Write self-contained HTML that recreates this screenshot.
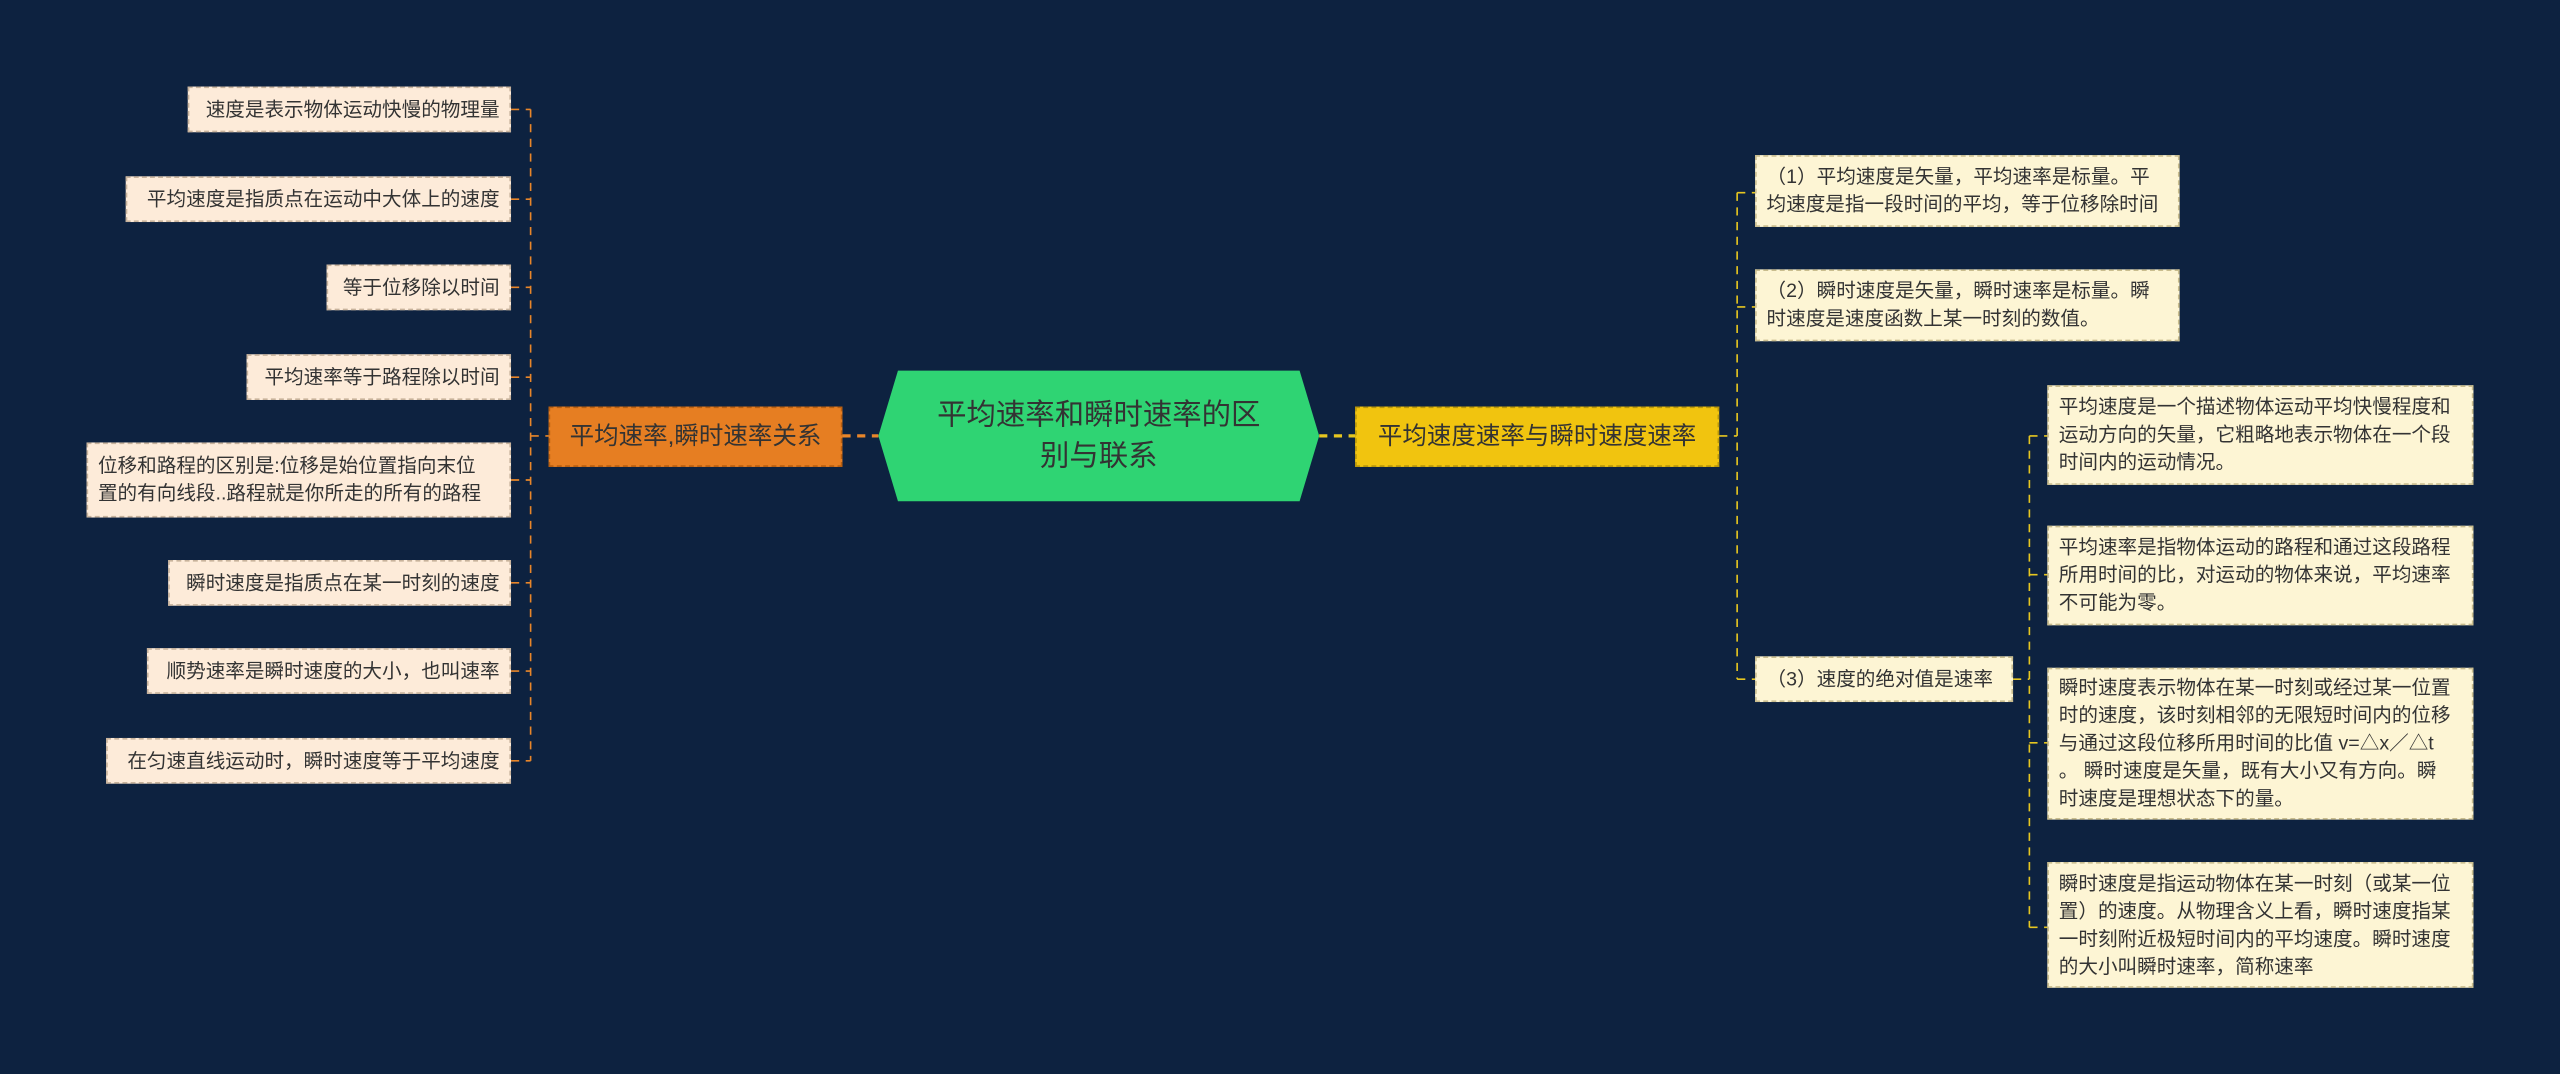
<!DOCTYPE html>
<html><head><meta charset="utf-8">
<style>
html,body{margin:0;padding:0;background:#0d2240;width:2560px;height:1074px;overflow:hidden}
#c{position:absolute;left:0;top:0;width:1568px;height:658px;transform:scale(1.63265);transform-origin:0 0;font-family:"Liberation Sans","Noto Sans CJK SC",sans-serif;}
.b{position:absolute;box-sizing:border-box;display:flex;align-items:center;color:#333;font-size:12px;line-height:17px;padding:0 6px;white-space:nowrap}
.l{background:#fdebd9;border:1px dashed #c8b39c;justify-content:flex-end}
.r{background:#fdf5d4;border:1px dashed #c9bd8e}
svg{position:absolute;left:0;top:0}
</style></head><body>
<div id="c">
<svg width="1568" height="658">
<g fill="none" stroke-width="1" stroke-dasharray="5,4">
<g stroke="#e8862a">
<line x1="516" y1="267" x2="538" y2="267" stroke-width="2"/>
<line x1="325" y1="67" x2="325" y2="466"/>
<line x1="325" y1="267" x2="336" y2="267"/>
<line x1="313" y1="67" x2="325" y2="67"/>
<line x1="313" y1="122" x2="325" y2="122"/>
<line x1="313" y1="176" x2="325" y2="176"/>
<line x1="313" y1="231" x2="325" y2="231"/>
<line x1="313" y1="294" x2="325" y2="294"/>
<line x1="313" y1="357" x2="325" y2="357"/>
<line x1="313" y1="411" x2="325" y2="411"/>
<line x1="313" y1="466" x2="325" y2="466"/>
</g>
<g stroke="#e6c620">
<line x1="808" y1="267" x2="830" y2="267" stroke-width="2"/>
<line x1="1064" y1="118" x2="1064" y2="416"/>
<line x1="1053" y1="267" x2="1064" y2="267"/>
<line x1="1064" y1="118" x2="1075" y2="118"/>
<line x1="1064" y1="188" x2="1075" y2="188"/>
<line x1="1064" y1="416" x2="1075" y2="416"/>
<line x1="1243" y1="267" x2="1243" y2="568"/>
<line x1="1233" y1="416" x2="1243" y2="416"/>
<line x1="1243" y1="267" x2="1254" y2="267"/>
<line x1="1243" y1="352" x2="1254" y2="352"/>
<line x1="1243" y1="455" x2="1254" y2="455"/>
<line x1="1243" y1="568" x2="1254" y2="568"/>
</g>
</g>
<polygon points="550,227 796,227 808,267 796,307 550,307 538,267" fill="#2fd473"/>
</svg>
<div class="b" style="left:538px;top:227px;width:270px;height:80px;justify-content:center;text-align:center;font-size:18px;line-height:25px;white-space:normal;padding:0 16px">平均速率和瞬时速率的区<br>别与联系</div>
<div class="b" style="left:336px;top:249px;width:180px;height:37px;background:#e67e22;border:1px dashed #b85f10;justify-content:center;font-size:15px">平均速率,瞬时速率关系</div>
<div class="b" style="left:830px;top:249px;width:223px;height:37px;background:#f1c40f;border:1px dashed #b8960a;justify-content:center;font-size:15px">平均速度速率与瞬时速度速率</div>

<div class="b l" style="left:115px;top:53px;width:198px;height:28px">速度是表示物体运动快慢的物理量</div>
<div class="b l" style="left:77px;top:108px;width:236px;height:28px">平均速度是指质点在运动中大体上的速度</div>
<div class="b l" style="left:200px;top:162px;width:113px;height:28px">等于位移除以时间</div>
<div class="b l" style="left:151px;top:217px;width:162px;height:28px">平均速率等于路程除以时间</div>
<div class="b l" style="left:53px;top:271px;width:260px;height:46px;justify-content:flex-start">位移和路程的区别是:位移是始位置指向末位<br>置的有向线段..路程就是你所走的所有的路程</div>
<div class="b l" style="left:103px;top:343px;width:210px;height:28px">瞬时速度是指质点在某一时刻的速度</div>
<div class="b l" style="left:90px;top:397px;width:223px;height:28px">顺势速率是瞬时速度的大小，也叫速率</div>
<div class="b l" style="left:65px;top:452px;width:248px;height:28px">在匀速直线运动时，瞬时速度等于平均速度</div>

<div class="b r" style="left:1075px;top:95px;width:260px;height:44px">（1）平均速度是矢量，平均速率是标量。平<br>均速度是指一段时间的平均，等于位移除时间</div>
<div class="b r" style="left:1075px;top:165px;width:260px;height:44px">（2）瞬时速度是矢量，瞬时速率是标量。瞬<br>时速度是速度函数上某一时刻的数值。</div>
<div class="b r" style="left:1075px;top:402px;width:158px;height:28px">（3）速度的绝对值是速率</div>
<div class="b r" style="left:1254px;top:236px;width:261px;height:61px">平均速度是一个描述物体运动平均快慢程度和<br>运动方向的矢量，它粗略地表示物体在一个段<br>时间内的运动情况。</div>
<div class="b r" style="left:1254px;top:322px;width:261px;height:61px">平均速率是指物体运动的路程和通过这段路程<br>所用时间的比，对运动的物体来说，平均速率<br>不可能为零。</div>
<div class="b r" style="left:1254px;top:409px;width:261px;height:93px">瞬时速度表示物体在某一时刻或经过某一位置<br>时的速度，该时刻相邻的无限短时间内的位移<br>与通过这段位移所用时间的比值 v=△x／△t<br>。 瞬时速度是矢量，既有大小又有方向。瞬<br>时速度是理想状态下的量。</div>
<div class="b r" style="left:1254px;top:528px;width:261px;height:77px">瞬时速度是指运动物体在某一时刻（或某一位<br>置）的速度。从物理含义上看，瞬时速度指某<br>一时刻附近极短时间内的平均速度。瞬时速度<br>的大小叫瞬时速率，简称速率</div>
</div>
</body></html>
